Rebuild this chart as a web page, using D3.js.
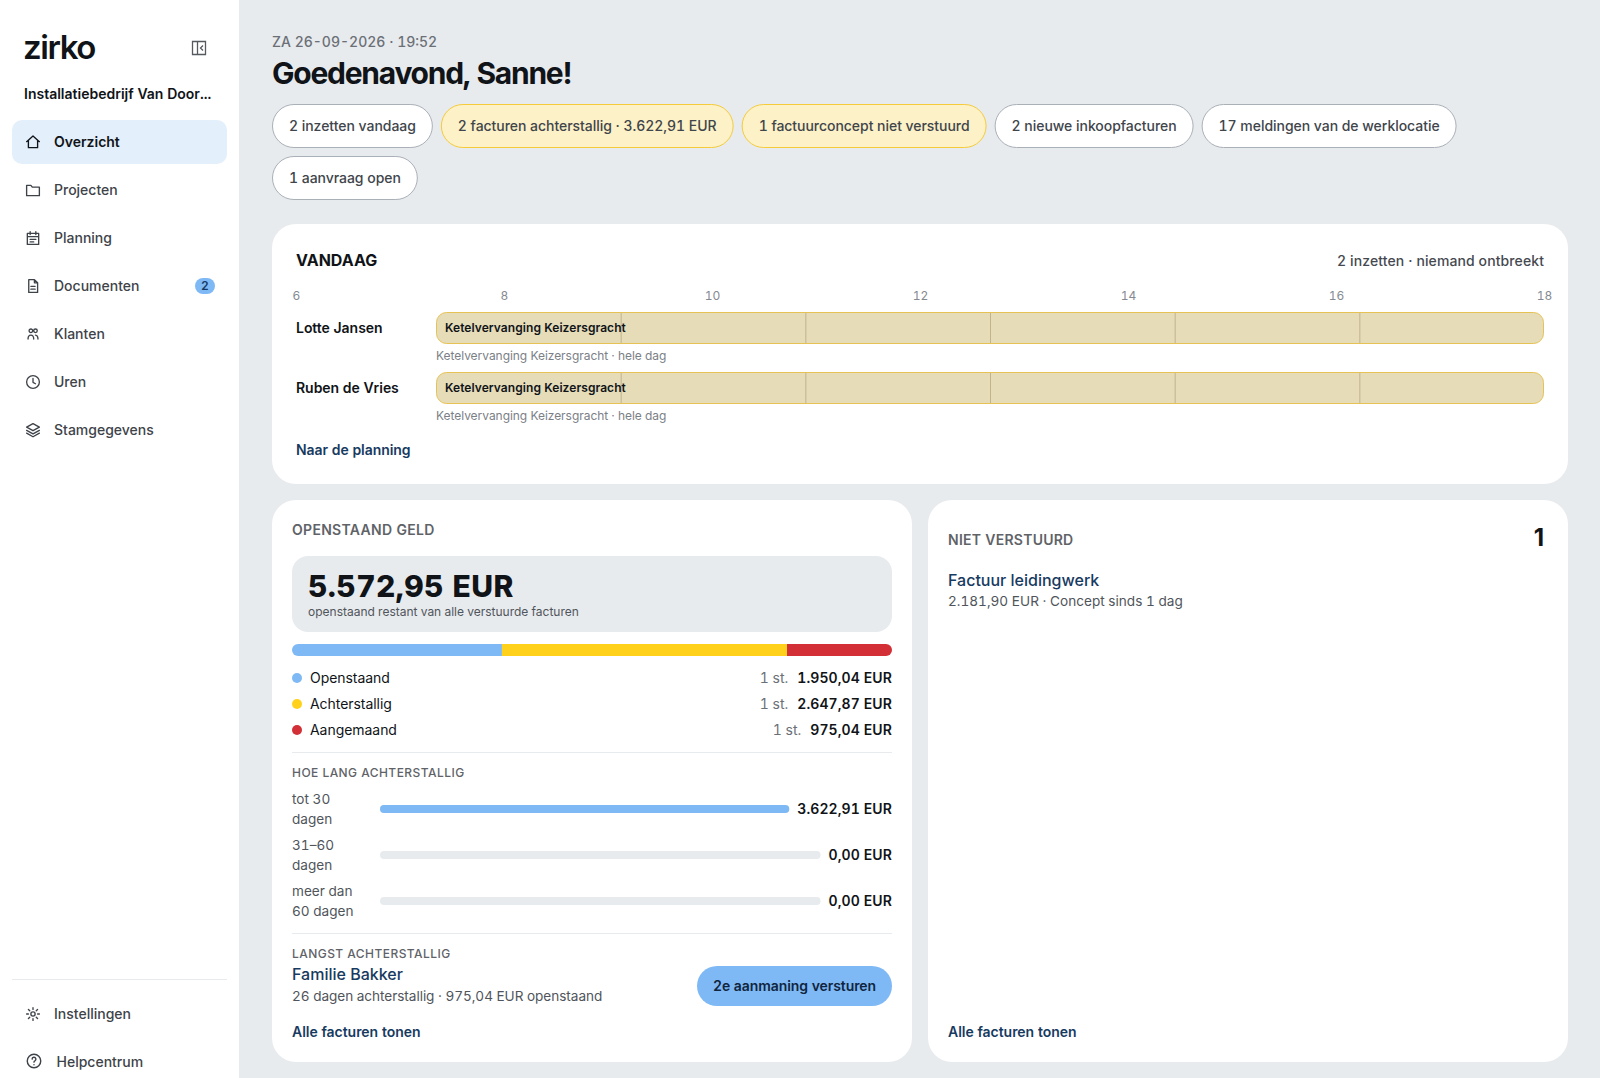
<!DOCTYPE html>
<html lang="nl">
<head>
<meta charset="utf-8">
<title>Overzicht</title>
<script src="https://cdn.jsdelivr.net/npm/d3@7"></script>
<style>
  html, body { margin: 0; padding: 0; background: #e8ebee; overflow: hidden; }
  svg { display: block; font-family: Inter, 'Noto Sans', sans-serif; font-variant-numeric: tabular-nums; }
  text { dominant-baseline: central; }
</style>
</head>
<body>
<div id="chart"></div>
<script>
const navLabels = ['Overzicht', 'Projecten', 'Planning', 'Documenten', 'Klanten', 'Uren', 'Stamgegevens']
const navIcons = ['home', 'folder', 'calendar', 'doc', 'people', 'clock', 'layers']
const footLabels = ['Instellingen', 'Helpcentrum']
const footIcons = ['sun', 'help']

const chipLabels = ['2 inzetten vandaag', '2 facturen achterstallig · 3.622,91 EUR', '1 factuurconcept niet verstuurd',
  '2 nieuwe inkoopfacturen', '17 meldingen van de werklocatie', '1 aanvraag open']
const chipWarn = [false, true, true, false, false, false]

const hourTicks = [6, 8, 10, 12, 14, 16, 18]
const barDividers = [8, 10, 12, 14, 16]
const people = ['Lotte Jansen', 'Ruben de Vries']
const jobStart = [6, 6]
const jobEnd = [18, 18]
const jobName = 'Ketelvervanging Keizersgracht'

const statusNames = ['Openstaand', 'Achterstallig', 'Aangemaand']
const statusValues = [1950.04, 2647.87, 975.04]
const statusCounts = [1, 1, 1]
const statusColors = ['#7fb9f5', '#ffd11a', '#d32f36']

const ageLabels = [['tot 30', 'dagen'], ['31–60', 'dagen'], ['meer dan', '60 dagen']]
const ageValues = [3622.91, 0, 0]

const icons = {
  home: 'M3 11.5 12 3.5l9 8M5.5 9.5V20h13V9.5',
  folder: 'M3 5.5h6l2 2.5h10v12H3z',
  calendar: 'M4 5.5h16V21H4zM8 3v4M16 3v4M4 10h16M8 14h8M8 17.5h5',
  doc: 'M6 3h8l4.5 4.5V21H6zM14 3v4.5h4.500M9 12.500h6M9 16.500h6',
  people: 'M6.500 7.500a2.500 2.500 0 1 0 5 0 2.500 2.500 0 1 0-5 0M13 7.500a2.500 2.500 0 1 0 5 0 2.500 2.500 0 1 0-5 0M5 19c0-3.500 1.500-5.500 4-5.500s4 2 4 5.500M15.500 13.500c2 .2 3.500 2 3.500 5.500',
  clock: 'M3 12a9 9 0 1 0 18 0 9 9 0 1 0-18 0M12 7v5.500l3.500 2',
  layers: 'M12 3l9 5-9 5-9-5zM3 12.500l9 5 9-5M3 16.500l9 5 9-5',
  sun: 'M9 12a3 3 0 1 0 6 0 3 3 0 1 0-6 0M12 3v2.500M12 18.500V21M3 12h2.500M18.500 12H21M5.600 5.600l1.800 1.800M16.600 16.600l1.800 1.800M5.600 18.400l1.800-1.800M16.600 7.400l1.800-1.800',
  help: 'M3 12a9 9 0 1 0 18 0 9 9 0 1 0-18 0M9.500 9.500a2.500 2.500 0 1 1 3.700 2.200c-.8.4-1.200 1-1.200 1.800M12 16.800v.2'
}

const nl = d3.formatLocale({ decimal: ',', thousands: '.', grouping: [3], currency: ['', ' EUR'] })
const eur = (v) => nl.format(',.2f')(v) + ' EUR'

const ink = '#101418'
const grey = '#5f6368'
const navy = '#173a61'

const svg = d3.select('#chart').append('svg')
  .attr('width', 1600)
  .attr('height', 1078)

function label (parent, str, x, y, size, weight, color, anchor = 'start', spacing = 0) {
  return parent.append('text')
    .attr('x', x)
    .attr('y', y)
    .attr('text-anchor', anchor)
    .attr('font-size', size)
    .attr('font-weight', weight)
    .attr('letter-spacing', spacing)
    .attr('fill', color)
    .text(str)
}

function icon (parent, name, cx, cy, size, color) {
  parent.append('path')
    .attr('d', icons[name])
    .attr('transform', `translate(${cx - size / 2},${cy - size / 2}) scale(${size / 24})`)
    .attr('fill', 'none')
    .attr('stroke', color)
    .attr('stroke-width', 1.9)
    .attr('stroke-linecap', 'round')
    .attr('stroke-linejoin', 'round')
}

function card (x, y, w, h) {
  svg.append('rect').attr('x', x).attr('y', y).attr('width', w).attr('height', h)
    .attr('rx', 24).attr('fill', '#fff')
}

function rule (x1, x2, y) {
  svg.append('line').attr('x1', x1).attr('x2', x2).attr('y1', y + 0.5).attr('y2', y + 0.5)
    .attr('stroke', '#e8ebee')
}

// sidebar
svg.append('rect').attr('width', 239).attr('height', 1078).attr('fill', '#fff')
label(svg, 'zirko', 23, 47, 33, 600, ink, 'start', -1.4)
svg.append('path')
  .attr('d', 'M192.500 41.500h13v13h-13zM197.500 41.500v13M203 45.500l-2.500 2.500 2.500 2.500')
  .attr('fill', 'none').attr('stroke', '#555a60').attr('stroke-width', 1.3)
label(svg, 'Installatiebedrijf Van Door...', 24, 93.500, 14, 600, ink)

svg.append('rect').attr('x', 12).attr('y', 120).attr('width', 215).attr('height', 44)
  .attr('rx', 10).attr('fill', '#e3effb')

const navStep = d3.scalePoint().domain(navLabels).range([142, 430])
navLabels.forEach((name, i) => {
  const y = navStep(name)
  const active = i === 0
  icon(svg, navIcons[i], 33, y, 17, active ? ink : '#3e4349')
  label(svg, name, 54, y - 1, 14, active ? 600 : 500, active ? ink : '#3e4349')
})
svg.append('rect').attr('x', 195).attr('y', 278).attr('width', 20).attr('height', 16)
  .attr('rx', 8).attr('fill', statusColors[0])
label(svg, '2', 205, 285.500, 12, 600, navy, 'middle')

rule(12, 227, 979)
icon(svg, footIcons[0], 33, 1014, 17, '#3e4349')
label(svg, footLabels[0], 54, 1013, 14, 500, '#3e4349')
icon(svg, footIcons[1], 34, 1061, 18, '#3e4349')
label(svg, footLabels[1], 56.500, 1061, 14, 500, '#3e4349')

// header
label(svg, 'ZA 26-09-2026 · 19:52', 272, 41.500, 14, 500, '#6b7077')
label(svg, 'Goedenavond, Sanne!', 272, 73, 30, 700, ink, 'start', -1.25)

// chips, flowing over two rows like the wrapped original
const chipGroup = svg.append('g')
let chipX = 272
let chipY = 104
chipLabels.forEach((str, i) => {
  const g = chipGroup.append('g')
  const t = label(g, str, 17, 21, 14, 500, '#40454b', 'start', -0.04)
  const w = t.node().getComputedTextLength() + 34
  if (chipX + w > 1568) {
    chipX = 272
    chipY += 52
  }
  g.attr('transform', `translate(${chipX},${chipY})`)
  g.insert('rect', 'text')
    .attr('x', 0.5).attr('y', 0.5).attr('width', w - 1).attr('height', 43)
    .attr('rx', 21.5)
    .attr('fill', chipWarn[i] ? '#fdf1c7' : '#fff')
    .attr('stroke', chipWarn[i] ? '#f5cb3a' : '#aab0b8')
  chipX += w + 8
})

// today card
card(272, 224, 1296, 260)
label(svg, 'VANDAAG', 296, 260, 16, 700, ink)
label(svg, '2 inzetten · niemand ontbreekt', 1544, 260, 14, 500, '#45494f', 'end', 0.1)

const tickScale = d3.scaleLinear().domain([6, 18]).range([296, 1544])
const barScale = d3.scaleLinear().domain([6, 18]).range([436, 1544])

svg.append('g')
  .attr('transform', 'translate(0,295)')
  .call(d3.axisTop(tickScale).tickValues(hourTicks).tickSize(0).tickPadding(0))
  .call((g) => g.select('.domain').remove())
  .call((g) => g.selectAll('text')
    .attr('y', 0).attr('dy', 0)
    .attr('font-family', 'Inter, sans-serif')
    .attr('font-size', 12)
    .attr('fill', '#858a91'))

people.forEach((name, i) => {
  const y = 312 + i * 60
  label(svg, name, 296, y + 15, 14, 600, ink, 'start', -0.04)
  const x0 = barScale(jobStart[i])
  const x1 = barScale(jobEnd[i])
  svg.append('rect')
    .attr('x', x0 + 0.5).attr('y', y + 0.5).attr('width', x1 - x0 - 1).attr('height', 31)
    .attr('rx', 10).attr('fill', '#e6dcb8').attr('stroke', '#e6c255')
  svg.selectAll(null)
    .data(barDividers)
    .enter()
    .append('line')
    .attr('x1', (d) => barScale(d) + 0.5).attr('x2', (d) => barScale(d) + 0.5)
    .attr('y1', y + 1).attr('y2', y + 31)
    .attr('stroke', '#c0b48c')
  label(svg, jobName, x0 + 9, y + 15.500, 12, 600, ink, 'start', 0.06)
  label(svg, `${jobName} · hele dag`, x0, y + 43, 12, 400, '#7b8087', 'start', -0.04)
})
label(svg, 'Naar de planning', 296, 449, 14, 600, navy, 'start', -0.05)

// money card
card(272, 500, 640, 562)
label(svg, 'OPENSTAAND GELD', 292, 529, 14, 600, grey, 'start', 0.3)
svg.append('rect').attr('x', 292).attr('y', 556).attr('width', 600).attr('height', 76)
  .attr('rx', 16).attr('fill', '#e8ebee')
const total = d3.sum(statusValues)
label(svg, eur(total), 308, 586, 30, 800, ink, 'start', 0.45)
label(svg, 'openstaand restant van alle verstuurde facturen', 308, 611, 12, 400, '#50555b')

const stackScale = d3.scaleLinear().domain([0, total]).range([292, 892])
const stacked = d3.stack().keys(statusNames)([Object.fromEntries(statusNames.map((n, i) => [n, statusValues[i]]))])
svg.append('clipPath').attr('id', 'stackClip')
  .append('rect').attr('x', 292).attr('y', 644).attr('width', 600).attr('height', 12).attr('rx', 6)
svg.append('g').attr('clip-path', 'url(#stackClip)')
  .selectAll('rect')
  .data(stacked)
  .enter()
  .append('rect')
  .attr('x', (d) => stackScale(d[0][0]))
  .attr('y', 644)
  .attr('width', (d) => stackScale(d[0][1]) - stackScale(d[0][0]))
  .attr('height', 12)
  .attr('fill', (d, i) => statusColors[i])

statusNames.forEach((name, i) => {
  const y = 678 + i * 26
  svg.append('circle').attr('cx', 297).attr('cy', y).attr('r', 5).attr('fill', statusColors[i])
  label(svg, name, 310, y - 1, 14, 400, ink, 'start', -0.05)
  const v = label(svg, eur(statusValues[i]), 892, y - 1, 14, 600, ink, 'end', 0.1)
  label(svg, `${statusCounts[i]} st.`, 892 - v.node().getComputedTextLength() - 9, y - 1, 14, 400, '#6b7077', 'end')
})
rule(292, 892, 752)
label(svg, 'HOE LANG ACHTERSTALLIG', 292, 772, 12, 500, grey, 'start', 0.45)

const ageMax = d3.max(ageValues)
ageValues.forEach((val, i) => {
  const cy = 809 + i * 46
  label(svg, ageLabels[i][0], 292, cy - 10.500, 13.600, 400, '#50555b')
  label(svg, ageLabels[i][1], 292, cy + 9.500, 13.600, 400, '#50555b')
  const v = label(svg, eur(val), 892, cy - 0.500, 14, 600, ink, 'end', 0.1)
  const trackEnd = 892 - v.node().getComputedTextLength() - 8
  const x = d3.scaleLinear().domain([0, ageMax]).range([380, trackEnd])
  svg.append('rect').attr('x', 380).attr('y', cy - 4).attr('width', trackEnd - 380).attr('height', 8)
    .attr('rx', 4).attr('fill', '#e8ebee')
  svg.append('rect').attr('x', 380).attr('y', cy - 4).attr('width', x(val) - 380).attr('height', 8)
    .attr('rx', 4).attr('fill', statusColors[0])
})
rule(292, 892, 933)
label(svg, 'LANGST ACHTERSTALLIG', 292, 953, 12, 500, grey, 'start', 0.45)
label(svg, 'Familie Bakker', 292, 974, 16, 500, navy)
label(svg, '26 dagen achterstallig · 975,04 EUR openstaand', 292, 995.500, 13.600, 400, '#50555b', 'start', -0.05)
svg.append('rect').attr('x', 697).attr('y', 966).attr('width', 195).attr('height', 40)
  .attr('rx', 20).attr('fill', statusColors[0])
label(svg, '2e aanmaning versturen', 794.500, 985.500, 14, 600, '#10253f', 'middle', -0.08)
label(svg, 'Alle facturen tonen', 292, 1031.500, 14, 600, navy, 'start', -0.03)

// unsent card
card(928, 500, 640, 562)
label(svg, 'NIET VERSTUURD', 948, 539, 14, 600, grey, 'start', 0.25)
label(svg, '1', 1544, 537, 24, 700, ink, 'end').style('font-variant-numeric', 'normal')
label(svg, 'Factuur leidingwerk', 948, 580, 16, 500, navy)
label(svg, '2.181,90 EUR · Concept sinds 1 dag', 948, 601, 13.600, 400, '#50555b')
label(svg, 'Alle facturen tonen', 948, 1031.500, 14, 600, navy, 'start', -0.03)
</script>
</body>
</html>
